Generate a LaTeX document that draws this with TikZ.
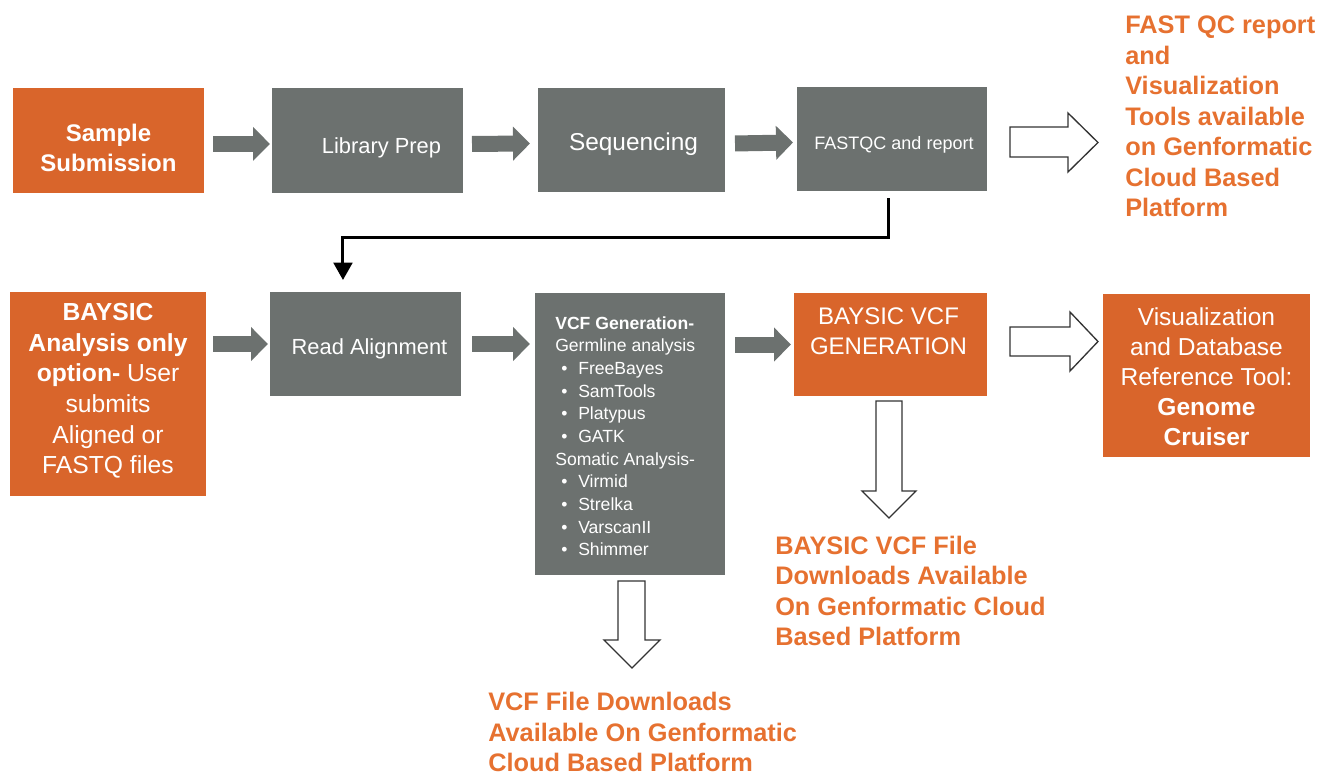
\documentclass[tikz,border=0pt]{standalone}
\usepackage{fontspec}
\setmainfont{Liberation Sans}
\usetikzlibrary{arrows.meta,calc}
\definecolor{bor}{RGB}{217,101,43}
\definecolor{bgr}{RGB}{108,113,111}
\definecolor{tor}{RGB}{230,113,48}
\begin{document}
\begin{tikzpicture}[x=0.75pt,y=-0.75pt,
  box/.style={draw=none, inner sep=0pt, outer sep=0pt, anchor=north west},
  sz/.style 2 args={minimum width=#1*0.75pt, minimum height=#2*0.75pt},
  obox/.style={box, fill=bor},
  gbox/.style={box, fill=bgr},
  wt/.style={text=white, align=center, inner sep=0pt},
  otext/.style={text=tor, align=left, inner sep=0pt, anchor=west,
    font=\fontsize{19}{22.9}\selectfont\bfseries},
  gconn/.style={draw=bgr, line width=12pt,
    -{Triangle[length=12.75pt, width=24.75pt]}},
  blk/.style={draw=black, line width=2.25pt,
    -{Triangle[length=13pt, width=14pt]}},
  hollow/.style={draw=black!80, fill=white, line width=1pt, line join=miter}]
\useasboundingbox (0,0) rectangle (1329,776);

% ---- row 1 boxes
\node[obox, sz={191}{105}] (ss) at (13,88) {};
\node[gbox, sz={191}{105}] (lp) at (272,88) {};
\node[gbox, sz={187}{104}] (sq) at (538,88) {};
\node[gbox, sz={190}{104}] (fq) at (797,87) {};

\node[wt, font=\fontsize{18}{22.5}\selectfont\bfseries] (sst) at ($(ss.center)+(0,7.5)$) {Sample\\Submission};
\node[wt, font=\fontsize{16.4}{20}\selectfont] (lpt) at ($(lp.center)+(14,7)$) {Library Prep};
\node[wt, font=\fontsize{18.3}{22}\selectfont] (sqt) at ($(sq.center)+(2,4)$) {Sequencing};
\node[wt, font=\fontsize{13.5}{16}\selectfont] (fqt) at ($(fq.center)+(2,6)$) {FASTQC and report};

% ---- row 2 boxes
\node[obox, sz={196}{204}] (ba) at (10,292) {};
\node[gbox, sz={191}{104}] (ra) at (270,292) {};
\node[gbox, sz={190}{282}] (vc) at (535,293) {};
\node[obox, sz={193}{103}] (bv) at (794,293) {};
\node[obox, sz={207}{163}] (vz) at (1103,294) {};

\node[wt, font=\fontsize{18.5}{23}\selectfont] (bat) at ($(ba.center)+(0,-3)$)
  {\textbf{BAYSIC}\\\textbf{Analysis only}\\\textbf{option-} User\\submits\\Aligned or\\FASTQ files};
\node[wt, font=\fontsize{16.4}{20}\selectfont] (rat) at ($(ra.center)+(4,5)$) {Read Alignment};
\node[wt, font=\fontsize{18}{22.5}\selectfont, anchor=north] (bvt) at ($(bv.north)+(-2,14)$) {BAYSIC VCF\\GENERATION};
\node[wt, font=\fontsize{18.4}{22.6}\selectfont] (vzt) at ($(vz.center)+(0,1)$)
  {Visualization\\and Database\\Reference Tool:\\\textbf{Genome}\\\textbf{Cruiser}};
\node[wt, align=left, anchor=north west, font=\fontsize{13.2}{17}\selectfont] (vct) at ($(vc.north west)+(20,23)$)
  {\textbf{VCF Generation-}\\Germline analysis\\
   \makebox[17.25pt][l]{\hspace{4.5pt}•}FreeBayes\\
   \makebox[17.25pt][l]{\hspace{4.5pt}•}SamTools\\
   \makebox[17.25pt][l]{\hspace{4.5pt}•}Platypus\\
   \makebox[17.25pt][l]{\hspace{4.5pt}•}GATK\\
   Somatic Analysis-\\
   \makebox[17.25pt][l]{\hspace{4.5pt}•}Virmid\\
   \makebox[17.25pt][l]{\hspace{4.5pt}•}Strelka\\
   \makebox[17.25pt][l]{\hspace{4.5pt}•}VarscanII\\
   \makebox[17.25pt][l]{\hspace{4.5pt}•}Shimmer};

% ---- orange texts
\node[otext] (fqo) at (1125,116.5) {FAST QC report\\and\\Visualization\\Tools available\\on Genformatic\\Cloud Based\\Platform};
\node[otext] (bvo) at (775,591) {BAYSIC VCF File\\Downloads Available\\On Genformatic Cloud\\Based Platform};
\node[otext] (vco) at (488,732) {VCF File Downloads\\Available On Genformatic\\Cloud Based Platform};

% ---- gray block arrows
\draw[gconn] ([xshift=6.75pt, yshift=-2.6pt]ss.east) -- ([xshift=-1.5pt, yshift=-2.6pt]lp.west);
\draw[gconn] ([xshift=6.75pt, yshift=-2.6pt]lp.east) -- ([xshift=-6pt, yshift=-2.6pt]sq.west);
\draw[gconn] ([xshift=7.5pt, yshift=-2.6pt]sq.east) -- ([xshift=-3pt, yshift=-2.6pt]fq.west);
\draw[gconn] ([xshift=5.25pt]ba.east |- ra.west) -- ([xshift=-1.5pt]ra.west);
\draw[gconn] ([xshift=8.25pt]ra.east) -- ([xshift=-3.75pt]vc.west |- ra.east);
\draw[gconn] ([xshift=7.5pt]vc.east |- bv.west) -- ([xshift=-2.25pt]bv.west);

% ---- black elbow connector
\draw[blk] ([xshift=-3pt, yshift=-5.25pt]fq.south) -- ++(0,39) -| ([xshift=-16.9pt, yshift=9pt]ra.north);

% ---- hollow arrows
\draw[hollow] ($(fq.east)+(23,-12)$) -- ++(58,0) -- ++(0,-14) -- ++(30,29.5)
  -- ++(-30,29.5) -- ++(0,-15) -- ++(-58,0) -- cycle;
\draw[hollow] ($(bv.east)+(23,-17.5)$) -- ++(60,0) -- ++(0,-15) -- ++(28,29.5)
  -- ++(-28,29.5) -- ++(0,-15) -- ++(-60,0) -- cycle;
\draw[hollow] ($(bv.south)+(-14.5,5)$) -- ++(0,90) -- ++(-14,0) -- ++(27,27)
  -- ++(27,-27) -- ++(-14,0) -- ++(0,-90) -- cycle;
\draw[hollow] ($(vc.south)+(-12,6)$) -- ++(0,59) -- ++(-14,0) -- ++(28,28)
  -- ++(28,-28) -- ++(-15,0) -- ++(0,-59) -- cycle;
\end{tikzpicture}
\end{document}
